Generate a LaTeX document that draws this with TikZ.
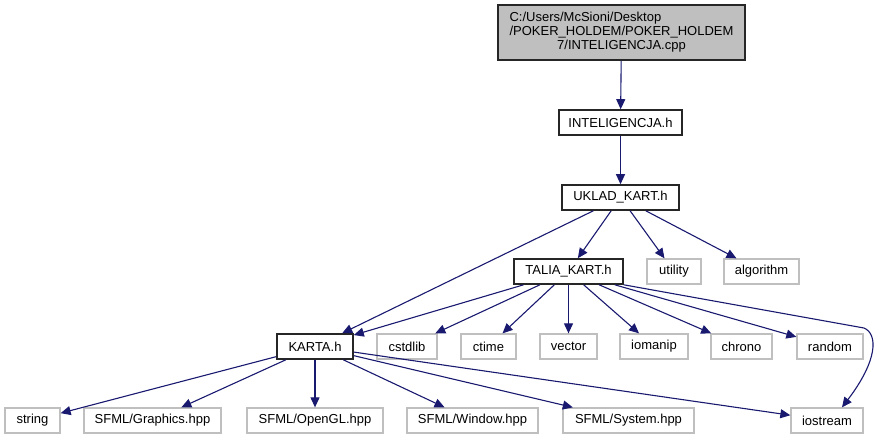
\documentclass[tikz,border=0pt]{standalone}
\usepackage{fontspec}
\setmainfont{Liberation Sans}
\usetikzlibrary{arrows.meta,calc}
\definecolor{edgeblue}{HTML}{191970}
\definecolor{lightgr}{HTML}{BFBFBF}
\begin{document}
\begin{tikzpicture}[x=1pt,y=-1pt,
  every node/.style={font=\fontsize{13}{14}\selectfont, inner sep=0pt, align=center},
  mainbox/.style={draw=black!85, line width=1.6pt, fill=white},
  sysbox/.style={draw=lightgr, line width=1.3pt, fill=white},
  rootbox/.style={draw=black!85, line width=1.6pt, fill=lightgr},
  edge/.style={draw=edgeblue, line width=1.1pt, -{Triangle[length=10pt,width=9pt]}}]
\useasboundingbox (0,0) rectangle (886,440);
% row 0
\node[rootbox, minimum width=247pt, minimum height=55pt] (root) at (621.5,32.5)
  {\rlap{C:/Users/McSioni/Desktop}\phantom{/POKER\_HOLDEM/POKER\_HOLDEM}\\/POKER\_HOLDEM/POKER\_HOLDEM\\7/INTELIGENCJA.cpp};
\node[mainbox, minimum width=123pt, minimum height=25pt] (inte) at (620.5,122.5) {INTELIGENCJA.h};
\node[mainbox, minimum width=117pt, minimum height=25pt] (uklad) at (620.5,197.5) {UKLAD\_KART.h};
% row 3
\node[mainbox, minimum width=109pt, minimum height=25pt] (talia) at (568.5,271.5) {TALIA\_KART.h};
\node[sysbox, minimum width=54pt, minimum height=25pt] (utility) at (674,271.5) {utility};
\node[sysbox, minimum width=75pt, minimum height=25pt] (algorithm) at (761.5,271.5) {algorithm};
% row 4
\node[mainbox, minimum width=76pt, minimum height=25pt] (karta) at (315,346.5) {KARTA.h};
\node[sysbox, minimum width=60pt, minimum height=25pt] (cstdlib) at (407,346.5) {cstdlib};
\node[sysbox, minimum width=55pt, minimum height=25pt] (ctime) at (488.5,346.5) {ctime};
\node[sysbox, minimum width=57pt, minimum height=25pt] (vector) at (568.5,346.5) {vector};
\node[sysbox, minimum width=68pt, minimum height=25pt] (iomanip) at (654,346.5) {iomanip};
\node[sysbox, minimum width=61pt, minimum height=25pt] (chrono) at (741.5,346.5) {chrono};
\node[sysbox, minimum width=66pt, minimum height=25pt] (random) at (830,346.5) {random};
% row 5
\node[sysbox, minimum width=55pt, minimum height=25pt] (string) at (32.5,420.5) {string};
\node[sysbox, minimum width=137pt, minimum height=25pt] (graphics) at (152.5,420.5) {SFML/Graphics.hpp};
\node[sysbox, minimum width=136pt, minimum height=25pt] (opengl) at (315,420.5) {SFML/OpenGL.hpp};
\node[sysbox, minimum width=131pt, minimum height=25pt] (window) at (472.5,420.5) {SFML/Window.hpp};
\node[sysbox, minimum width=131pt, minimum height=25pt] (system) at (628.5,420.5) {SFML/System.hpp};
\node[sysbox, minimum width=72pt, minimum height=25pt] (iostream) at (827,420.5) {iostream};
% edges
\draw[edge] (root) -- (inte);
\draw[edge] (inte) -- (uklad);
\draw[edge] (uklad) -- (karta);
\draw[edge] (uklad) -- (talia);
\draw[edge] (uklad) -- (utility);
\draw[edge] (uklad) -- (algorithm);
\draw[edge] (talia) -- (karta);
\draw[edge] (talia) -- (cstdlib);
\draw[edge] (talia) -- (ctime);
\draw[edge] (talia) -- (vector);
\draw[edge] (talia) -- (iomanip);
\draw[edge] (talia) -- (chrono);
\draw[edge] (talia) -- (random);
\coordinate (bend) at (864,328);
\coordinate (iotip) at ($(iostream.north)+(15,0)$);
\draw[edge] (talia.south east) -- (bend) .. controls (878,334) and (878,360) .. (iotip);
\draw[edge] (karta) -- (string);
\draw[edge] (karta) -- (graphics);
\draw[edge] (karta) -- (opengl);
\draw[edge] (karta) -- (window);
\draw[edge] (karta) -- (system);
\draw[edge] (karta) -- (iostream);
\end{tikzpicture}
\end{document}
